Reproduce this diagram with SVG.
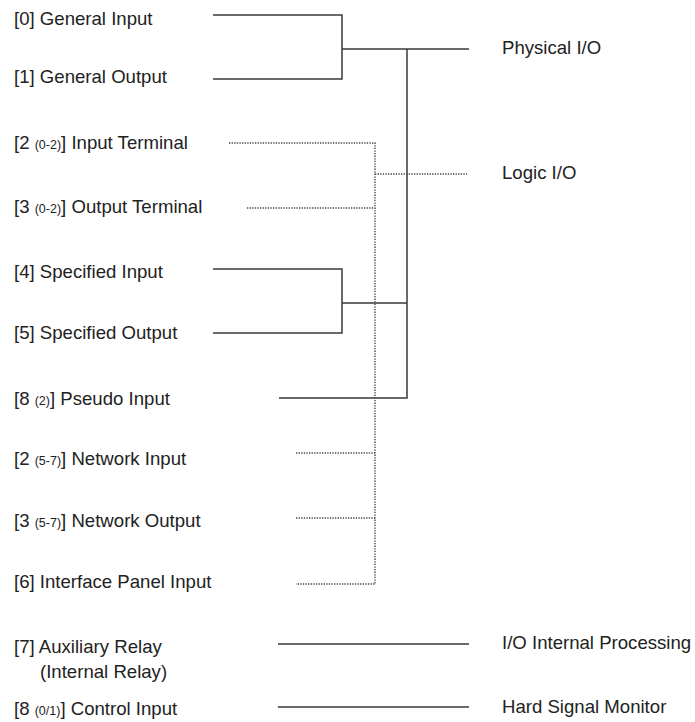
<svg xmlns="http://www.w3.org/2000/svg" width="695" height="722" viewBox="0 0 695 722">
<style>
text{font-family:"Liberation Sans",Arial,sans-serif;font-size:18.6px;fill:#222}
.s{font-size:12.5px}
.solid{stroke:#3a3a3a;stroke-width:1.5;fill:none}
.dot{stroke:#444;stroke-width:1.4;stroke-dasharray:1.3 1.3;fill:none}
</style>
<rect width="695" height="722" fill="#fff"/>
<g id="connectors">
<path class="solid" d="M213 15H342V79H213M342 49H469M407 49V398H279M213 269H342V333H213M342 303H407"/>
<path class="dot" d="M229 143H375V584H296M247 208H375M375 174H467M296 453H375M296 518H375"/>
<path class="solid" d="M278 644H469M278 707H469"/>
</g>
<g id="n0"><text x="14" y="25">[0] General Input</text></g>
<g id="n1"><text x="14" y="83">[1] General Output</text></g>
<g id="n2"><text x="14" y="149">[2 <tspan class="s">(0-2)</tspan>] Input Terminal</text></g>
<g id="n3"><text x="14" y="213">[3 <tspan class="s">(0-2)</tspan>] Output Terminal</text></g>
<g id="n4"><text x="14" y="278">[4] Specified Input</text></g>
<g id="n5"><text x="14" y="339">[5] Specified Output</text></g>
<g id="n8p"><text x="14" y="405">[8 <tspan class="s">(2)</tspan>] Pseudo Input</text></g>
<g id="n2n"><text x="14" y="465">[2 <tspan class="s">(5-7)</tspan>] Network Input</text></g>
<g id="n3n"><text x="14" y="527">[3 <tspan class="s">(5-7)</tspan>] Network Output</text></g>
<g id="n6"><text x="14" y="588">[6] Interface Panel Input</text></g>
<g id="n7"><text x="14" y="653">[7] Auxiliary Relay</text><text x="40" y="678">(Internal Relay)</text></g>
<g id="n8c"><text x="14" y="715">[8 <tspan class="s">(0/1)</tspan>] Control Input</text></g>
<g id="physical"><text x="502" y="54">Physical I/O</text></g>
<g id="logic"><text x="502" y="179">Logic I/O</text></g>
<g id="internal"><text x="502" y="649">I/O Internal Processing</text></g>
<g id="hard"><text x="502" y="713">Hard Signal Monitor</text></g>
</svg>
